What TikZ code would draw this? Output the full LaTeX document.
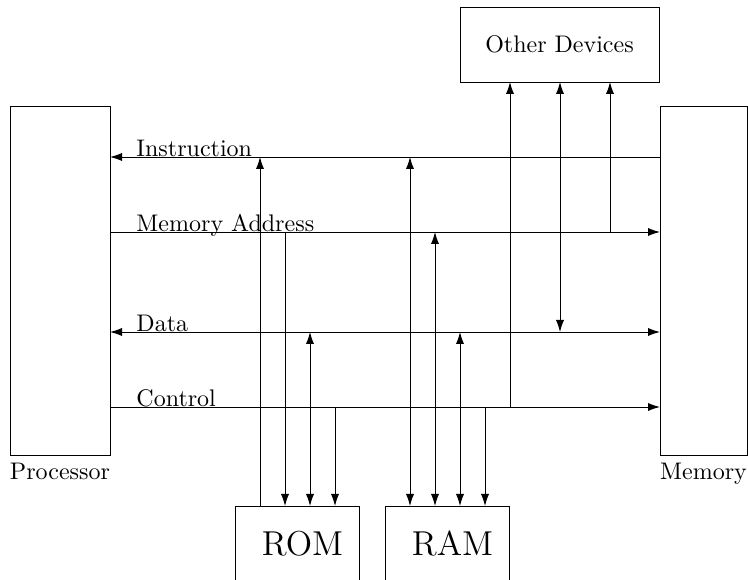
\documentclass[tikz,border=0pt]{standalone}
\usetikzlibrary{arrows.meta}

\newcommand{\pxu}{0.4167pt}

\begin{document}
\begin{tikzpicture}[x=\pxu,y=-\pxu,
    box/.style={draw,outer sep=0pt,inner sep=0pt},
    buslabel/.style={anchor=base west,inner sep=0pt},
    bus/.style={-{Latex[length=5pt,width=3.4pt]}},
    bibus/.style={{Latex[length=5pt,width=3.4pt]}-{Latex[length=5pt,width=3.4pt]}}]
    \useasboundingbox (0,0) rectangle (748,580);
    % the units
    \node[box,minimum width=100*\pxu,minimum height=349*\pxu,
        label={below:Processor}] (proc) at (60,280.5) {};
    \node[box,minimum width=87*\pxu,minimum height=349*\pxu,
        label={below:Memory}] (mem) at (703.5,280.5) {};
    \node[box,minimum width=199*\pxu,minimum height=75*\pxu] (other) at (559.5,44.5) {Other Devices};
    % the text sits a bit right of the middle
    \node[box,minimum width=124*\pxu,minimum height=76*\pxu,font=\Large] (rom) at (297,544) {\hspace*{4.6pt}ROM};
    \node[box,minimum width=124*\pxu,minimum height=76*\pxu,font=\Large] (ram) at (447,544) {\hspace*{4.6pt}RAM};
    % the four buses
    \coordinate (instr) at (0,157);
    \coordinate (addr) at (0,232);
    \coordinate (data) at (0,332);
    \coordinate (ctrl) at (0,407);
    \draw[bus] (mem.west |- instr) -- (proc.east |- instr);
    \draw[bus] (proc.east |- addr) -- (mem.west |- addr);
    \draw[bibus] (proc.east |- data) -- (mem.west |- data);
    \draw[bus] (proc.east |- ctrl) -- (mem.west |- ctrl);
    \node[buslabel] (instrlbl) at (136,157) {Instruction};
    \node[buslabel] (addrlbl) at (136,232) {Memory Address};
    \node[buslabel] (datalbl) at (136,332) {Data};
    \node[buslabel] (ctrllbl) at (136,407) {Control};
    % taps down to ROM
    \coordinate (k1) at (260,0);
    \coordinate (k2) at (285,0);
    \coordinate (k3) at (310,0);
    \coordinate (k4) at (335,0);
    \draw[bus] (k1 |- rom.north) -- (k1 |- instr);
    \draw[bus] (k2 |- addr) -- (k2 |- rom.north);
    \draw[bibus] (k3 |- data) -- (k3 |- rom.north);
    \draw[bus] (k4 |- ctrl) -- (k4 |- rom.north);
    % taps down to RAM
    \coordinate (m1) at (410,0);
    \coordinate (m2) at (435,0);
    \coordinate (m3) at (460,0);
    \coordinate (m4) at (485,0);
    \draw[bibus] (m1 |- instr) -- (m1 |- ram.north);
    \draw[bibus] (m2 |- addr) -- (m2 |- ram.north);
    \draw[bibus] (m3 |- data) -- (m3 |- ram.north);
    \draw[bus] (m4 |- ctrl) -- (m4 |- ram.north);
    % taps up to the other devices
    \coordinate (d1) at (510,0);
    \coordinate (d2) at (560,0);
    \coordinate (d3) at (610,0);
    \draw[bus] (d1 |- ctrl) -- (d1 |- other.south);
    \draw[bibus] (d2 |- data) -- (d2 |- other.south);
    \draw[bus] (d3 |- addr) -- (d3 |- other.south);
\end{tikzpicture}
\end{document}
